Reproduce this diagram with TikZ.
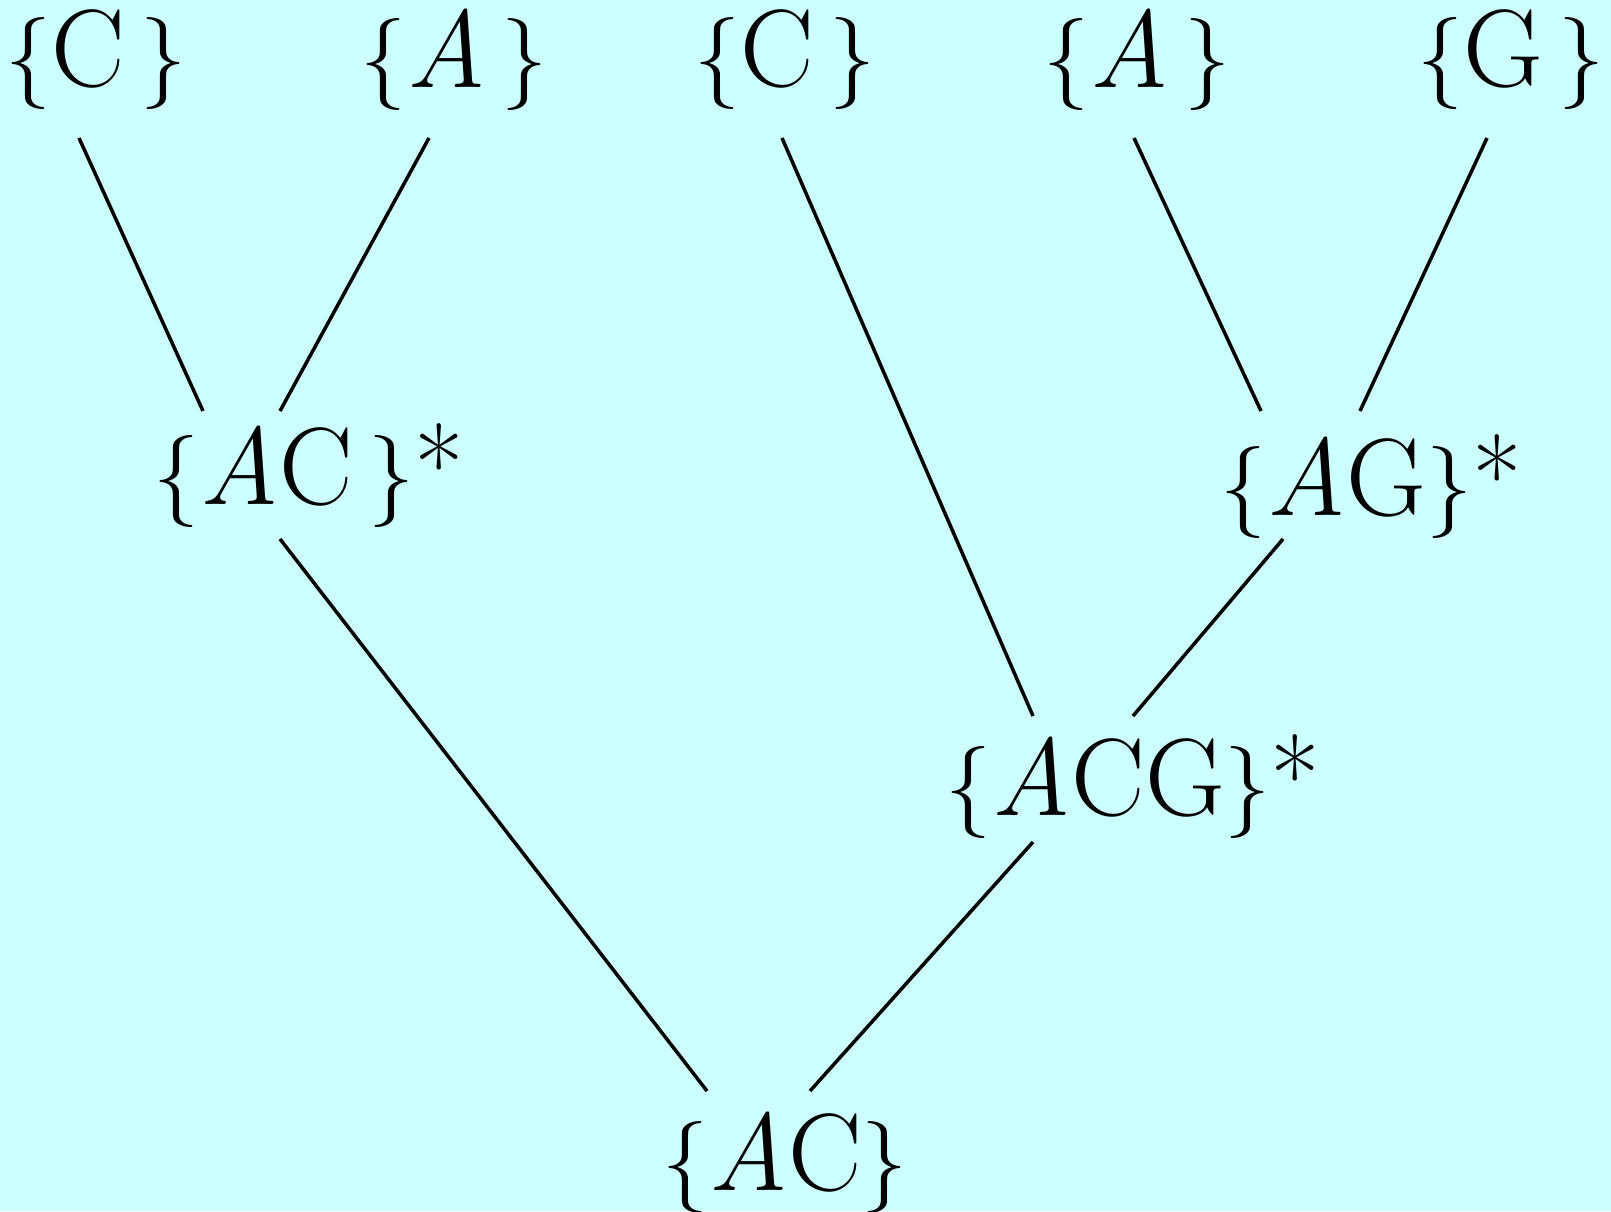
\documentclass[tikz,border=0pt]{standalone}
\usepackage{xcolor}
\usetikzlibrary{calc}
\definecolor{bgcyan}{HTML}{CCFFFF}
\newcommand{\ltr}[1]{{\fontsize{55}{60}\selectfont #1}}
\newcommand{\marked}{{\fontsize{54}{60}\selectfont *}}

\begin{document}
\begin{tikzpicture}[
    x=0.5pt, y=-0.5pt,
    set/.style={
      inner sep=0pt,
      font=\fontsize{46}{52}\selectfont,
    },
    edge/.style={draw=black, line width=1.75pt},
  ]
    \fill[bgcyan] (0,0) rectangle (1611,1211);
    \useasboundingbox (0,0) rectangle (1611,1211);

    \node[set] (c1) at (96,60) {\{\ltr{C}\,\}};
    \node[set] (a1) at (454,60) {\{\ltr{\textit{A}}\,\}};
    \node[set] (c2) at (785,60) {\{\ltr{C}\,\}};
    \node[set] (a2) at (1137,60) {\{\ltr{\textit{A}}\,\}};
    \node[set] (g1) at (1511,60) {\{\ltr{G}\,\}};

    \node[set] (ac) at (309,476) {\{\ltr{\textit{A}C}\,\}\marked};
    \node[set] (ag) at (1371,487) {\{\ltr{\textit{A}G}\}\marked};
    \node[set] (acg) at (1133,787) {\{\ltr{\textit{A}CG}\}\marked};
    \node[set] (root) at (785,1163) {\{\ltr{\textit{A}C}\}};

    \draw[edge] ($(c1)+(-17,78)$) -- ($(ac)+(-106,-65)$);
    \draw[edge] ($(a1)+(-25,78)$) -- ($(ac)+(-29,-65)$);
    \draw[edge] ($(c2)+(-3,78)$) -- ($(acg)+(-100,-71)$);
    \draw[edge] ($(a2)+(-3,78)$) -- ($(ag)+(-110,-76)$);
    \draw[edge] ($(g1)+(-24,78)$) -- ($(ag)+(-11,-76)$);
    \draw[edge] ($(ac)+(-29,63)$) -- ($(root)+(-78,-72)$);
    \draw[edge] ($(ag)+(-88,52)$) -- ($(acg)+(0,-71)$);
    \draw[edge] ($(acg)+(-100,55)$) -- ($(root)+(25,-72)$);
  \end{tikzpicture}
\end{document}
